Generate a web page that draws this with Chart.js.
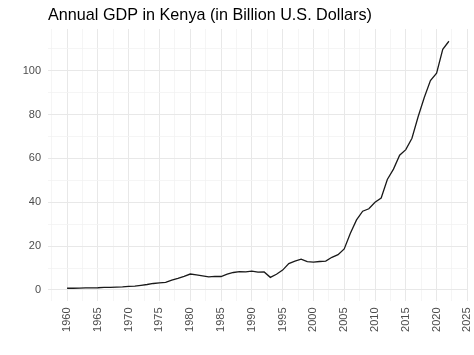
<!DOCTYPE html>
<html>
<head>
<meta charset="utf-8">
<script src="https://cdn.jsdelivr.net/npm/chart.js@4.4.1/dist/chart.umd.min.js"></script>
<style>
  html, body { margin: 0; padding: 0; background: #fff; }
  #wrap { width: 474px; height: 355px; position: relative; }
</style>
</head>
<body>
<div id="wrap"><canvas id="c" width="474" height="355"></canvas></div>
<script>
const chartTitle = 'Annual GDP in Kenya (in Billion U.S. Dollars)';
const years = [1960,1961,1962,1963,1964,1965,1966,1967,1968,1969,1970,1971,1972,1973,1974,1975,1976,1977,1978,1979,1980,1981,1982,1983,1984,1985,1986,1987,1988,1989,1990,1991,1992,1993,1994,1995,1996,1997,1998,1999,2000,2001,2002,2003,2004,2005,2006,2007,2008,2009,2010,2011,2012,2013,2014,2015,2016,2017,2018,2019,2020,2021,2022];
const gdp = [0.79,0.79,0.87,0.93,0.99,1.02,1.15,1.21,1.32,1.41,1.60,1.77,2.11,2.50,2.96,3.26,3.47,4.49,5.30,6.23,7.27,6.85,6.43,5.98,6.19,6.14,7.24,7.97,8.36,8.28,8.57,8.15,8.21,5.75,7.15,9.05,12.05,13.12,14.09,12.90,12.71,12.99,13.15,14.90,16.10,18.74,25.83,31.96,35.90,37.02,40.00,41.95,50.41,55.10,61.45,64.00,69.19,78.97,87.78,95.47,98.84,109.70,113.42];
const xMajorTicks = [1960,1965,1970,1975,1980,1985,1990,1995,2000,2005,2010,2015,2020,2025];
const xMinorTicks = [1957.5,1962.5,1967.5,1972.5,1977.5,1982.5,1987.5,1992.5,1997.5,2002.5,2007.5,2012.5,2017.5,2022.5];
const yMajorTicks = [0,20,40,60,80,100];
const yMinorTicks = [10,30,50,70,90,110];

const titlePlugin = {
  id: 'ggTitle',
  afterDraw(chart) {
    const ctx = chart.ctx;
    ctx.save();
    ctx.font = '16.2px "Liberation Sans", Arial, sans-serif';
    ctx.fillStyle = '#000000';
    ctx.textAlign = 'left';
    ctx.textBaseline = 'alphabetic';
    ctx.fillText(chartTitle, chart.chartArea.left, 19.5);
    ctx.restore();
  }
};

function buildTicks(major, minor) {
  return major.map(v => ({ value: v, major: true }))
    .concat(minor.map(v => ({ value: v, major: false })))
    .sort((a, b) => a.value - b.value);
}
const isMajor = (v, list) => list.includes(v);

new Chart(document.getElementById('c'), {
  type: 'line',
  data: {
    datasets: [{
      data: years.map((y, i) => ({ x: y, y: gdp[i] })),
      borderColor: '#1a1a1a',
      borderWidth: 1.3,
      pointRadius: 0,
      fill: false,
      tension: 0
    }]
  },
  options: {
    responsive: false,
    animation: false,
    layout: { padding: { left: 0, right: 6, top: 29, bottom: 0 } },
    plugins: { legend: { display: false }, tooltip: { enabled: false }, title: { display: false } },
    scales: {
      x: {
        type: 'linear',
        min: 1956.9,
        max: 2025.1,
        afterBuildTicks: s => { s.ticks = buildTicks(xMajorTicks, xMinorTicks); },
        afterFit: s => { s.height = 54.5; s.paddingLeft = 0; s.paddingRight = 0; },
        border: { display: false },
        grid: {
          drawTicks: false,
          color: c => isMajor(c.tick && c.tick.value, xMajorTicks) ? '#e8e8e8' : '#f3f3f3',
          lineWidth: c => isMajor(c.tick && c.tick.value, xMajorTicks) ? 1 : 0.8
        },
        ticks: {
          autoSkip: false,
          minRotation: 90,
          maxRotation: 90,
          padding: 7,
          color: '#4d4d4d',
          font: { family: '"Liberation Sans", Arial, sans-serif', size: 11 },
          callback: v => isMajor(v, xMajorTicks) ? String(v) : ''
        }
      },
      y: {
        type: 'linear',
        min: -4.8,
        max: 119,
        afterBuildTicks: s => { s.ticks = buildTicks(yMajorTicks, yMinorTicks); },
        afterFit: s => { s.width = 48; s.paddingTop = 0; s.paddingBottom = 0; },
        border: { display: false },
        grid: {
          drawTicks: false,
          color: c => isMajor(c.tick && c.tick.value, yMajorTicks) ? '#e8e8e8' : '#f3f3f3',
          lineWidth: c => isMajor(c.tick && c.tick.value, yMajorTicks) ? 1 : 0.8
        },
        ticks: {
          padding: 7,
          color: '#4d4d4d',
          font: { family: '"Liberation Sans", Arial, sans-serif', size: 11 },
          callback: v => isMajor(v, yMajorTicks) ? String(v) : ''
        }
      }
    }
  },
  plugins: [titlePlugin]
});
</script>
</body>
</html>
